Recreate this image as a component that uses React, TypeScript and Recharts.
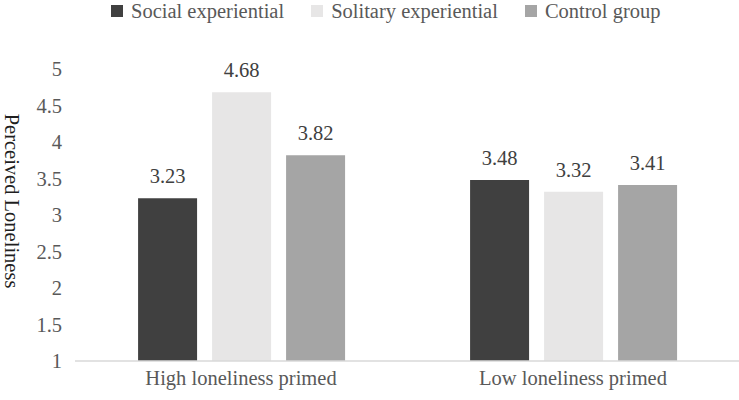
import { BarChart, Bar, XAxis, YAxis, Legend, LabelList } from 'recharts';

const categories = ['High loneliness primed', 'Low loneliness primed'];
const socialExperiential = [3.23, 3.48];
const solitaryExperiential = [4.68, 3.32];
const controlGroup = [3.82, 3.41];
const yTicks = [1, 1.5, 2, 2.5, 3, 3.5, 4, 4.5, 5];

const SERIES = [
  { key: 'social', name: 'Social experiential', color: '#404040' },
  { key: 'solitary', name: 'Solitary experiential', color: '#e7e6e6' },
  { key: 'control', name: 'Control group', color: '#a5a5a5' },
];

const data = categories.map((c, i) => ({
  category: c,
  social: socialExperiential[i],
  solitary: solitaryExperiential[i],
  control: controlGroup[i],
}));

const FONT = 'Liberation Serif';
const TEXT = '#595959';
const SIZE = 20.5;

function TopLegend() {
  return (
    <div style={{ width: 739, height: 69, fontFamily: FONT, fontSize: SIZE, color: TEXT }}>
      <div style={{ display: 'flex', alignItems: 'center', paddingLeft: 111, height: 22 }}>
        {SERIES.map((s) => (
          <div key={s.key} style={{ display: 'flex', alignItems: 'center', marginRight: 27 }}>
            <span style={{ width: 12, height: 12, background: s.color, display: 'inline-block', marginRight: 8 }} />
            <span style={{ lineHeight: '22px' }}>{s.name}</span>
          </div>
        ))}
      </div>
    </div>
  );
}

function YLabel() {
  return (
    <text
      x={12}
      y={201}
      transform="rotate(90, 12, 201)"
      textAnchor="middle"
      dominantBaseline="central"
      fill="#1f1f1f"
      fontSize={SIZE}
      fontFamily={FONT}
    >
      Perceived Loneliness
    </text>
  );
}

export default function App() {
  return (
    <div style={{ position: 'absolute', left: 0, top: 0, background: '#fff', fontFamily: FONT }}>
      <BarChart
        width={739}
        height={400}
        data={data}
        margin={{ top: 0, right: 0, bottom: 0, left: 0 }}
        barCategoryGap="19%"
        barGap={15}
      >
        <Legend verticalAlign="top" align="left" content={() => <TopLegend />} wrapperStyle={{ left: 0 }} />
        <XAxis
          dataKey="category"
          axisLine={{ stroke: '#d9d9d9', strokeWidth: 1.5 }}
          tickLine={false}
          tickSize={0}
          tickMargin={9}
          tick={{ fill: TEXT, fontSize: SIZE, fontFamily: FONT }}
          height={39}
        />
        <YAxis
          domain={[1, 5]}
          ticks={yTicks}
          axisLine={false}
          tickLine={false}
          tickSize={0}
          tickMargin={13}
          width={75}
          tick={{ fill: TEXT, fontSize: SIZE, fontFamily: FONT }}
          label={<YLabel />}
        />
        {SERIES.map((s) => (
          <Bar key={s.key} dataKey={s.key} name={s.name} fill={s.color} isAnimationActive={false}>
            <LabelList
              dataKey={s.key}
              position="top"
              offset={15}
              fill="#404040"
              fontSize={SIZE}
              fontFamily={FONT}
            />
          </Bar>
        ))}
      </BarChart>
    </div>
  );
}
